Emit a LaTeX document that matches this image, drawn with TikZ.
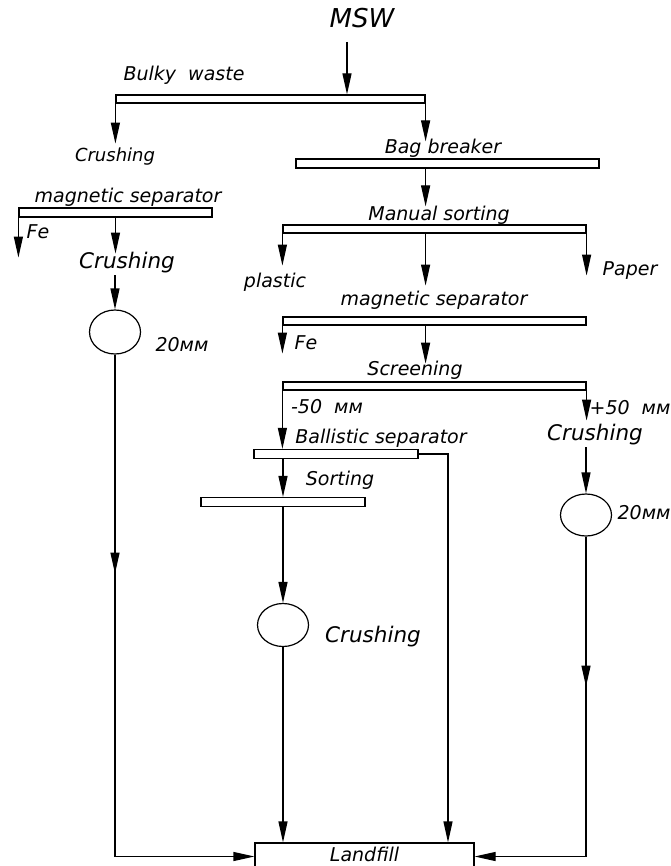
\documentclass[tikz,border=0pt]{standalone}
\usepackage{fontspec}
\setmainfont{DejaVu Sans}
\usetikzlibrary{arrows.meta, shapes.geometric, decorations.markings}
\tikzset{
  % separator / screen bar
  bar/.style={draw, rectangle, inner sep=0pt, minimum height=8pt},
  % crusher
  mill/.style={draw, ellipse, inner sep=0pt, minimum width=51pt, minimum height=43pt},
  % labels
  lbl/.style={font=\fontsize{19}{22}\selectfont\itshape, inner sep=1pt},
  smalllbl/.style={font=\fontsize{18}{21}\selectfont\itshape, inner sep=1pt},
  biglbl/.style={font=\fontsize{21.5}{25}\selectfont\itshape, inner sep=1pt},
  titlelbl/.style={font=\fontsize{26}{30}\selectfont\itshape, inner sep=1pt},
  % material flow
  flow/.style={-{Triangle[length=21pt, width=9pt]}},
  midarrow/.style={postaction={decorate}, decoration={markings,
    mark=at position #1 with {\arrow{Triangle[length=21pt, width=9pt]}}}},
}

\begin{document}
\begin{tikzpicture}[x=1pt, y=-1pt, line width=1.2pt]
  \useasboundingbox (0,0) rectangle (670,866);
  % input
  \node[titlelbl] (msw) at (362,18) {MSW};
  \coordinate (feed) at (347,42);
  % bars
  \node[bar, minimum width=309pt] (bulky) at (270.5,99) {};
  \node[bar, minimum width=303pt, minimum height=9pt] (bagbar) at (447.5,163.5) {};
  \node[bar, minimum width=193pt, minimum height=9pt] (magL) at (115.5,212.5) {};
  \node[bar, minimum width=303pt] (manual) at (434.5,229) {};
  \node[bar, minimum width=303pt] (magR) at (434.5,321) {};
  \node[bar, minimum width=303pt] (screen) at (434.5,386) {};
  \node[bar, minimum width=164pt, minimum height=9pt] (ballbar) at (336,454) {};
  \node[bar, minimum width=164pt, minimum height=9pt] (sortbar) at (283,502) {};
  % crushers and landfill
  \node[mill, minimum height=44pt] (millL) at (115,332) {};
  \node[mill, minimum height=42pt] (millR) at (586,515) {};
  \node[mill] (millB) at (283,625) {};
  \node[draw, minimum width=219pt, minimum height=27pt, inner sep=0pt] (landfill) at (364.5,856.5) {};
  \node[lbl] (landL) at (364.5,854) {Landfill};
  % labels
  \node[lbl] (bulkyL) at (184,75) {Bulky~~waste};
  \node[smalllbl] (crushS) at (115,157) {Crushing};
  \node[lbl] (bagL) at (443,148) {Bag breaker};
  \node[lbl] (magLL) at (128,197) {magnetic separator};
  \node[lbl] (feL) at (38,232) {Fe};
  \node[biglbl] (crushL) at (127,263) {Crushing};
  \node[lbl] (mmL) at (182,345) {20мм};
  \node[lbl] (manualL) at (439,215) {Manual sorting};
  \node[lbl] (plasticL) at (275,282) {plastic};
  \node[lbl] (paperL) at (630,271) {Paper};
  \node[lbl] (magRL) at (434,300) {magnetic separator};
  \node[lbl] (feR) at (306,343) {Fe};
  \node[lbl] (screenL) at (415,370) {Screening};
  \node[lbl] (minusL) at (327,407) {-50~~мм};
  \node[lbl] (plusL) at (630,408) {+50~~мм};
  \node[biglbl] (crushR) at (595,435) {Crushing};
  \node[lbl] (mmR) at (644,513) {20мм};
  \node[lbl] (ballL) at (381,438) {Ballistic separator};
  \node[lbl] (sortL) at (340,480) {Sorting};
  \node[biglbl] (crushB) at (373,637) {Crushing};
  % flows, top
  \draw[flow] (feed) -- (feed |- bulky.north);
  \draw[flow] (bulky.south west) -- ++(0,40);
  \draw[flow] (bulky.south east) -- ([yshift=17pt]bagbar.north -| bulky.south east);
  \draw[flow] (bagbar.south -| bulky.south east) -- ([yshift=18pt]manual.north -| bulky.south east);
  % flows, left branch
  \draw[flow] (magL.south west) -- ++(0,40);
  \draw[flow] (magL.south) -- ++(0,36);
  \draw[flow] (millL.north |- crushL.south) -- (millL.north);
  \draw[flow, midarrow=219pt] (millL.south) |- (landfill.west);
  % flows, manual sorting and magnetic separator
  \draw[flow] (manual.south west) -- ++(0,32);
  \draw[flow] (manual.south -| bulky.south east) -- ++(0,52);
  \draw[flow] (manual.south east) -- ++(0,42);
  \draw[flow] (magR.south west) -- ++(0,28);
  \draw[flow] (magR.south -| bulky.south east) -- ++(0,38);
  % flows, screening
  \draw[flow] (screen.south west) -- (screen.south west |- ballbar.north);
  \draw[flow] (screen.south east) -- ++(0,30);
  \draw[flow] (millR.north |- crushR.south) -- (millR.north);
  \draw[flow, midarrow=150pt] (millR.south) |- (landfill.east);
  % flows, ballistic separator and sorting
  \draw[flow] (ballbar.east) -| ([xshift=83.5pt]landfill.north);
  \draw[flow] (ballbar.south -| sortbar.north) -- (sortbar.north);
  \draw[flow] (sortbar.south) -- (millB.north);
  \draw[flow] (millB.south) -- (millB.south |- landfill.north);
\end{tikzpicture}
\end{document}
